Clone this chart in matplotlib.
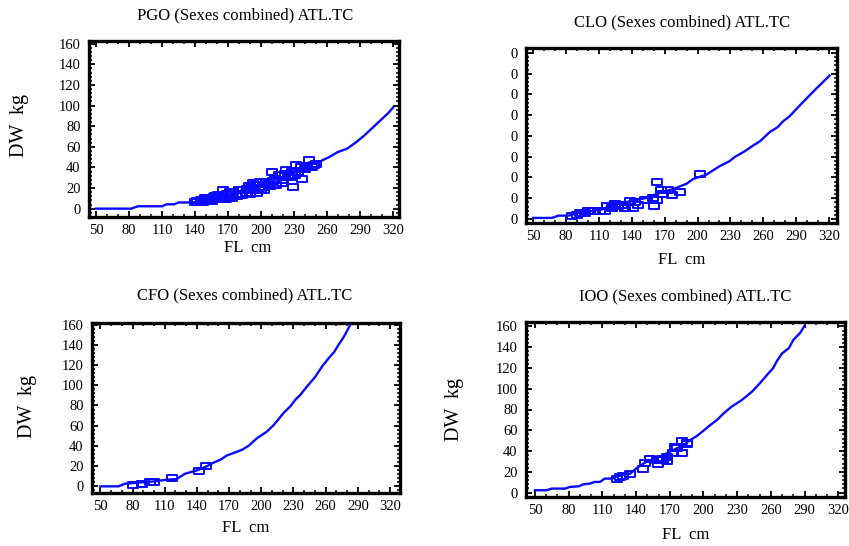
import matplotlib
matplotlib.use("Agg")
import matplotlib.pyplot as plt
from matplotlib.path import Path
from matplotlib.ticker import MultipleLocator

plt.rcParams['font.family'] = ['Liberation Serif', 'DejaVu Serif']

# ---------------- data ----------------
titles = ["PGO (Sexes combined) ATL.TC", "CLO (Sexes combined) ATL.TC",
          "CFO (Sexes combined) ATL.TC", "IOO (Sexes combined) ATL.TC"]
x_label = "FL  cm"
y_label = "DW  kg"
x_ticks = [50, 80, 110, 140, 170, 200, 230, 260, 290, 320]
y_ticks = [0, 20, 40, 60, 80, 100, 120, 140, 160]
y_tick_labels = ["0", "20", "40", "60", "80", "100", "120", "140", "160"]
clo_y_tick_labels = ["0", "0", "0", "0", "0", "0", "0", "0", "0"]

# PGO
pgo_curve_fl = [50, 82, 88, 110, 114, 121, 125, 138, 145, 152, 160, 168, 175, 182, 190,
                198, 205, 212, 220, 228, 235, 242, 248, 254, 262, 270, 278, 286, 294, 302,
                310, 316, 320]
pgo_curve_dw = [0, 0, 2.3, 2.3, 4.2, 4.2, 6, 6, 8, 9, 11, 12.5, 14, 17, 19,
                22, 25, 28, 31, 35, 38, 41, 44, 46, 50, 55, 58, 64, 71, 79,
                87, 93, 98]
pgo_fl = [140, 142, 145, 147, 149, 150, 152, 154, 155, 157,
          158, 160, 161, 163, 165, 166, 168, 169, 171, 172,
          174, 175, 177, 178, 180, 181, 183, 184, 186, 187,
          189, 190, 191, 193, 194, 195, 196, 198, 199, 200,
          202, 203, 205, 206, 208, 210, 211, 213, 214, 216,
          217, 219, 220, 222, 223, 225, 226, 228, 229, 231,
          232, 234, 236, 237, 240, 242, 244, 246, 248, 250]
pgo_dw = [6.4, 7, 8.7, 6.5, 10.7, 8, 9.5, 10.7, 7.5, 11,
          11.9, 9, 13, 9.7, 17.7, 11, 9.7, 14, 12.9, 16.5,
          10.5, 16.1, 13.5, 11.9, 17.7, 14.5, 12.9, 18.5, 15.5, 19.4,
          22, 14.5, 20.5, 24.5, 17.7, 23, 15, 20, 25.8, 18.5,
          21, 17.7, 26, 24.2, 21.5, 35.5, 27, 29.1, 22.6, 33,
          32.3, 25, 27.4, 34, 37.1, 31.5, 30.6, 36, 21, 33,
          42, 35.5, 40, 29.1, 38.8, 41, 46.8, 40.5, 42, 43.6]

# CLO
clo_curve_fl = [50, 67, 73, 82, 91, 102, 112, 120, 129, 141, 153, 165, 178, 190, 196,
                208, 220, 229, 234, 243, 251, 257, 266, 273, 278, 284, 296, 308, 320.5]
clo_curve_dw = [1, 1, 3.2, 3.2, 5.8, 7.4, 9, 12.2, 14.8, 17.7, 20.2, 25, 28.9, 34, 38.6,
                42.7, 50.8, 55.6, 59.8, 65.2, 71, 74.9, 83.9, 88.4, 94.1, 99, 112.4, 125.3, 138.2]
clo_fl = [85, 89.5, 92.6, 97, 100, 104.7, 110.8, 115.4, 117, 121.5,
          124.5, 127.5, 130.6, 133.6, 138, 141, 142.7, 145.8, 151.9, 159.5,
          160.4, 162.5, 163, 167, 168.6, 173, 176.8, 183.8, 202]
clo_dw = [3.2, 4.2, 5.8, 5.8, 7.4, 7.4, 8, 8, 12.2, 10.6,
          14.8, 12.2, 13.8, 10.6, 17, 10.6, 16, 13.8, 18.6, 20.2,
          12.2, 18.6, 35.3, 27.6, 24.4, 27.6, 23.5, 26.3, 43.4]

# CFO
cfo_curve_fl = [50, 67, 73, 100, 112, 121, 129, 140, 149, 156, 162, 168, 174, 182, 188,
                196, 205, 211, 215, 221, 227, 232, 236, 242, 250, 257, 263, 268, 272, 277, 283]
cfo_curve_dw = [0, 0, 2.6, 4.9, 6.6, 7.2, 12.5, 15.8, 19.7, 23.7, 26.3, 30.6, 32.9, 36.1, 40,
                47.6, 54, 60, 65, 72.9, 79, 86, 90, 98, 108, 119, 127, 133, 140, 148, 160]
cfo_fl = [80.4, 88.8, 96.6, 100.3, 116.7, 141.6, 148.7]
cfo_dw = [1.6, 2.6, 4.3, 4.3, 8.2, 14.8, 20.4]

# IOO
ioo_curve_fl = [50, 60, 65, 77, 81, 89, 93, 99, 103, 108, 112, 118, 126, 135, 140, 149, 161,
                173, 182, 188, 194, 200, 206, 212, 218, 225, 234, 243, 250, 258, 262, 265,
                270, 276, 280, 286, 290]
ioo_curve_dw = [2.3, 2.3, 3.9, 3.9, 5.5, 6.1, 8, 8.7, 10.3, 10.3, 13.5, 13.5, 16.7, 18.4, 23.2,
                29.6, 34.4, 40.9, 45.7, 50.5, 54.4, 59.6, 65, 69.9, 76.3, 82.7, 89, 97, 105,
                115, 119.8, 126, 134, 139, 147, 153.6, 160.6]
ioo_fl = [122.7, 125.7, 128.6, 134.6, 145.8, 147.9, 152.4, 158.9, 159.8, 162.8,
          164.2, 167.2, 167.8, 172.5, 176.1, 174.6, 180.6, 180.6, 185, 185]
ioo_dw = [13.5, 15.1, 15.8, 17.7, 23.2, 28.7, 32.8, 31.2, 27.4, 32.8,
          31.2, 34.4, 30.6, 38.3, 42.5, 44.1, 49.9, 37.7, 46.7, 48]

# ---------------- layout / style ----------------
W, H = 849, 546
fig = plt.figure(figsize=(W / 100, H / 100), dpi=100)
BLUE = "#0a0aff"

rect_marker = Path([(-1, -0.62), (1, -0.62), (1, 0.62), (-1, 0.62), (-1, -0.62)],
                   [Path.MOVETO, Path.LINETO, Path.LINETO, Path.LINETO, Path.CLOSEPOLY])


def px_rect(l, t, r, b):
    return [l / W, 1 - b / H, (r - l) / W, (b - t) / H]


panels = [
    dict(rect=px_rect(89, 41, 399, 217), xlim=(43.6, 325.5), ylim=(-8.1, 162.6),
         cfl=pgo_curve_fl, cdw=pgo_curve_dw, fl=pgo_fl, dw=pgo_dw,
         title=titles[0], tpos=(245, 15), ylab=(-0.223, 0.52), xlab=(0.513, -0.176),
         ytl=y_tick_labels),
    dict(rect=px_rect(526, 48, 837, 223), xlim=(43.3, 327.3), ylim=(-3.9, 164.8),
         cfl=clo_curve_fl, cdw=clo_curve_dw, fl=clo_fl, dw=clo_dw,
         title=titles[1], tpos=(682, 22), ylab=None, xlab=(0.5, -0.211),
         ytl=clo_y_tick_labels),
    dict(rect=px_rect(92, 323, 400, 493), xlim=(42.2, 329.3), ylim=(-6.6, 161.6),
         cfl=cfo_curve_fl, cdw=cfo_curve_dw, fl=cfo_fl, dw=cfo_dw,
         title=titles[2], tpos=(245, 295), ylab=(-0.211, 0.51), xlab=(0.5, -0.206),
         ytl=y_tick_labels),
    dict(rect=px_rect(526, 322, 845, 497), xlim=(42.0, 326.0), ylim=(-4.2, 164.2),
         cfl=ioo_curve_fl, cdw=ioo_curve_dw, fl=ioo_fl, dw=ioo_dw,
         title=titles[3], tpos=(685, 296), ylab=(-0.223, 0.5), xlab=(0.5, -0.217),
         ytl=y_tick_labels),
]

for p in panels:
    ax = fig.add_axes(p["rect"])
    ax.plot(p["cfl"], p["cdw"], color=BLUE, lw=1.7, zorder=3)
    ax.plot(p["fl"], p["dw"], linestyle="none", marker=rect_marker, ms=7.0,
            mfc="none", mec=BLUE, mew=1.4, zorder=4)
    ax.set_xlim(*p["xlim"])
    ax.set_ylim(*p["ylim"])
    ax.set_xticks(x_ticks)
    ax.set_xticklabels([str(v) for v in x_ticks])
    ax.set_yticks(y_ticks)
    ax.set_yticklabels(p["ytl"])
    ax.xaxis.set_minor_locator(MultipleLocator(10))
    ax.yaxis.set_minor_locator(MultipleLocator(4))
    ax.tick_params(which="both", direction="in", top=True, right=True,
                   labelsize=10.5, colors="black")
    ax.tick_params(which="major", length=4, width=1.3, pad=6)
    ax.tick_params(axis="x", which="major", pad=5)
    ax.tick_params(which="minor", length=2.2, width=1.1)
    for s in ax.spines.values():
        s.set_linewidth(2.4)
    ax.set_xlabel(x_label, fontsize=12, va="center")
    ax.xaxis.set_label_coords(*p["xlab"])
    if p["ylab"] is not None:
        ax.set_ylabel(y_label, fontsize=14.5, va="center")
        ax.yaxis.set_label_coords(*p["ylab"])
    fig.text(p["tpos"][0] / W, 1 - p["tpos"][1] / H, p["title"], ha="center",
             va="center", fontsize=12)

fig.savefig("out.png", dpi=100)
